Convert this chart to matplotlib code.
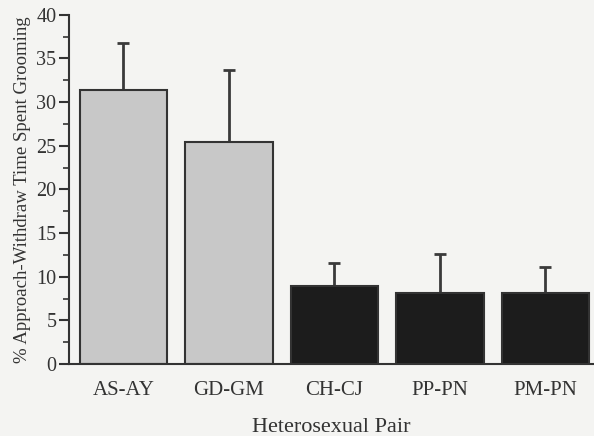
import matplotlib
matplotlib.use("Agg")
import matplotlib.pyplot as plt
from matplotlib.ticker import MultipleLocator

categories = ["AS-AY", "GD-GM", "CH-CJ", "PP-PN", "PM-PN"]
means = [31.4, 25.4, 8.9, 8.1, 8.1]
err_upper = [5.4, 8.3, 2.7, 4.5, 3.0]
bar_colors = ["#c8c8c8", "#c8c8c8", "#1c1c1c", "#1c1c1c", "#1c1c1c"]

plt.rcParams['font.family'] = ['Liberation Serif', 'DejaVu Serif']

fig = plt.figure(figsize=(5.94, 4.36), dpi=100, facecolor="#f4f4f2")
ax = fig.add_axes([0.116, 0.165, 0.884, 0.801])
ax.set_facecolor("#f4f4f2")

x = list(range(len(categories)))
ax.bar(x, means, width=0.83, color=bar_colors, edgecolor="#333333", linewidth=1.5, zorder=2)
ax.errorbar(x, means, yerr=[[0]*len(means), err_upper], fmt="none",
            ecolor="#3a3a3a", elinewidth=2, capsize=4, capthick=2, zorder=1)

ax.set_xlim(-0.517, 4.46)
ax.set_ylim(0, 40)
ax.yaxis.set_major_locator(MultipleLocator(5))
ax.yaxis.set_minor_locator(MultipleLocator(2.5))
ax.set_xticks(x)
ax.set_xticklabels(categories, fontsize=15, color="#333333")
ax.tick_params(axis='y', which='major', length=7, width=1.5, labelsize=14.5, colors="#333333", direction='out', pad=2)
ax.tick_params(axis='y', which='minor', length=4, width=1.2, colors="#333333", direction='out')
ax.tick_params(axis='x', length=0, pad=12)

for s in ["top", "right"]:
    ax.spines[s].set_visible(False)
for s in ["left", "bottom"]:
    ax.spines[s].set_linewidth(1.5)
    ax.spines[s].set_color("#333333")

ax.set_ylabel("% Approach-Withdraw Time Spent Grooming", fontsize=13.5, color="#333333", labelpad=4)
ax.set_xlabel("Heterosexual Pair", fontsize=16, color="#333333", labelpad=13)

fig.savefig("out.png", dpi=100, facecolor=fig.get_facecolor())
